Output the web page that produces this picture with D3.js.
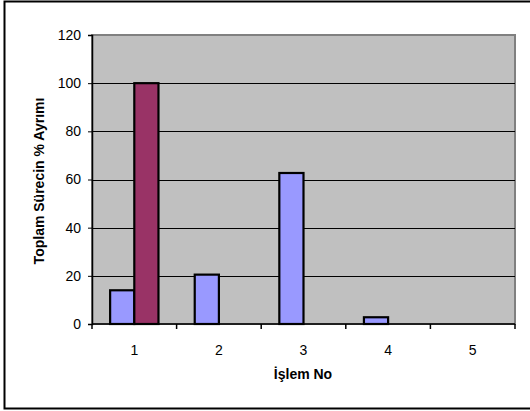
<!DOCTYPE html>
<html><head><meta charset="utf-8">
<script src="https://cdn.jsdelivr.net/npm/d3@7"></script>
<style>body{margin:0;background:#fff}svg{display:block}text{font-family:"Liberation Sans",Arial,sans-serif}</style>
</head><body><svg id="c" width="530" height="411"></svg>
<script>
const categories = ["1","2","3","4","5"];
const series1 = [14, 20.5, 62.7, 2.8, 0];
const series2 = [100, 0, 0, 0, 0];
const yTicks = [0,20,40,60,80,100,120];
const colors = ["#9999FF","#993366"];

const svg = d3.select("#c");
const L = 92, T = 35, R = 515, B = 324;
svg.append("rect").attr("x",4.5).attr("y",1.5).attr("width",530).attr("height",407)
  .attr("fill","#fff").attr("stroke","#000").attr("stroke-width",2);

const x = d3.scaleBand().domain(categories).range([L,R]).paddingInner(0).paddingOuter(0);
const y = d3.scaleLinear().domain([0,120]).range([B,T]);

svg.append("rect").attr("x",L).attr("y",T).attr("width",R-L).attr("height",B-T)
  .attr("fill","#C0C0C0").attr("stroke","#808080").attr("stroke-width",2);

svg.append("g").selectAll("line").data(yTicks.filter(d=>d>0 && d<120)).join("line")
  .attr("x1",L).attr("x2",R).attr("y1",d=>Math.round(y(d))+0.5).attr("y2",d=>Math.round(y(d))+0.5)
  .attr("stroke","#000").attr("stroke-width",1);

const bw = x.bandwidth()*2/3.5/2;
const data = [series1, series2];
data.forEach((s,si)=>{
  svg.append("g").selectAll("rect").data(s.map((v,i)=>({v,c:categories[i]})).filter(d=>d.v>0)).join("rect")
    .attr("x",d=>x(d.c)+x.bandwidth()/2 - bw + si*bw)
    .attr("y",d=>y(d.v)).attr("width",bw).attr("height",d=>B-y(d.v))
    .attr("fill",colors[si]).attr("stroke","#000").attr("stroke-width",2.2);
});

// axes
const yAxis = d3.axisLeft(y).tickValues(yTicks).tickSize(4).tickPadding(7);
const gy = svg.append("g").attr("transform",`translate(${L},0)`).call(yAxis);
gy.select(".domain").attr("stroke","#000").attr("stroke-width",1.5);
gy.selectAll("text").attr("font-size",14).attr("fill","#000");

const xl = d3.scaleLinear().domain([0,5]).range([L,R]);
const gx = svg.append("g").attr("transform",`translate(0,${B})`);
gx.append("line").attr("x1",L).attr("x2",R).attr("y1",0).attr("y2",0).attr("stroke","#000").attr("stroke-width",1.5);
gx.selectAll("line.t").data(d3.range(0,6)).join("line").attr("class","t")
  .attr("x1",d=>xl(d)).attr("x2",d=>xl(d)).attr("y1",0).attr("y2",5).attr("stroke","#000").attr("stroke-width",1.5);
gx.selectAll("text").data(categories).join("text")
  .attr("x",d=>x(d)+x.bandwidth()/2).attr("y",31).attr("text-anchor","middle")
  .attr("font-size",14).text(d=>d);

svg.append("text").attr("x",303).attr("y",379).attr("text-anchor","middle")
  .attr("font-size",14).attr("font-weight","bold").text("İşlem No");
svg.append("text").attr("transform","translate(44,181) rotate(-90)").attr("text-anchor","middle")
  .attr("font-size",14).attr("font-weight","bold").text("Toplam Sürecin % Ayrımı");
</script></body></html>
